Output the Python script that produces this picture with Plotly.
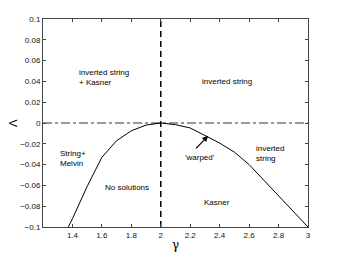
import plotly.graph_objects as go

gamma = [1.372, 1.4, 1.5, 1.6, 1.7, 1.8, 1.9, 2.0, 2.1, 2.2, 2.3, 2.4, 2.5, 2.6, 2.7, 2.8, 2.9, 3.0]
lam = [-0.1, -0.092, -0.061, -0.033, -0.017, -0.0075, -0.002, 0.0, -0.0016, -0.0048, -0.012, -0.0193,
       -0.028, -0.040, -0.055, -0.070, -0.085, -0.1]

xticks = [1.4, 1.6, 1.8, 2, 2.2, 2.4, 2.6, 2.8, 3]
xticklabels = ["1.4", "1.6", "1.8", "2", "2.2", "2.4", "2.6", "2.8", "3"]
yticks = [0.1, 0.08, 0.06, 0.04, 0.02, 0, -0.02, -0.04, -0.06, -0.08, -0.1]
yticklabels = ["0.1", "0.08", "0.06", "0.04", "0.02", "0", "\u22120.02", "\u22120.04", "\u22120.06", "\u22120.08", "\u22120.1"]

labels = [
    ("inverted string<br>+ Kasner", 1.43, 0.044),
    ("inverted string", 2.265, 0.040),
    ("String+<br>Melvin", 1.305, -0.034),
    ("No solutions", 1.61, -0.0616),
    ("Kasner", 2.28, -0.076),
    ("inverted<br>string", 2.632, -0.029),
    ("'warped'", 2.152, -0.0335),
]

FONT = "Liberation Sans, Arial, sans-serif"

fig = go.Figure()
fig.add_trace(go.Scatter(x=gamma, y=lam, mode="lines",
                         line=dict(color="black", width=1), showlegend=False))
fig.add_trace(go.Scatter(x=[1.2, 3.0], y=[0, 0], mode="lines",
                         line=dict(color="black", width=0.8, dash="dashdot"), showlegend=False))
fig.add_trace(go.Scatter(x=[2, 2], y=[-0.1, 0.1], mode="lines",
                         line=dict(color="black", width=1.5, dash="6px,4px"), showlegend=False))

for txt, x, y in labels:
    fig.add_annotation(x=x, y=y, text=txt, showarrow=False, xanchor="left", align="left",
                       font=dict(size=8, color="black", family=FONT))

fig.add_annotation(x=2.322, y=-0.0122, ax=2.23, ay=-0.0258, xref="x", yref="y", axref="x", ayref="y",
                   text="", showarrow=True, arrowhead=2, arrowsize=1, arrowwidth=1.2, arrowcolor="black")

# axis titles placed in window pixel positions, converted to paper coords
# plot area in window pixels: x 43..308, y 19..227
pw, ph = 308 - 43, 227 - 19
def px2paper(px, py):
    return (px - 43) / pw, (227 - py) / ph

lx, ly = px2paper(13, 123)
fig.add_annotation(x=lx, y=ly, xref="paper", yref="paper", text="\u039b", showarrow=False,
                   xanchor="center", yanchor="middle",
                   textangle=-90, font=dict(size=11, family="DejaVu Sans", color="black"))
gx, gy = px2paper(175, 245)
fig.add_annotation(x=gx, y=gy, xref="paper", yref="paper", text="\u03b3", showarrow=False,
                   xanchor="center", yanchor="middle",
                   font=dict(size=12, family="DejaVu Serif", color="black"))

fig.update_xaxes(range=[1.2, 3.0], tickvals=xticks, ticktext=xticklabels, ticks="inside", ticklen=3,
                 mirror="ticks", showline=True, linecolor="#444", linewidth=1, showgrid=False, zeroline=False,
                 automargin=False, tickfont=dict(size=8, color="#111", family=FONT))
fig.update_yaxes(range=[-0.1, 0.1], tickvals=yticks, ticktext=yticklabels, ticks="inside", ticklen=3,
                 mirror="ticks", showline=True, linecolor="#444", linewidth=1, showgrid=False, zeroline=False,
                 automargin=False, tickfont=dict(size=8, color="#111", family=FONT))
# page body has an 8px default margin, so the figure is drawn 8px in from the window corner
fig.update_layout(width=332, height=247, margin=dict(l=35, r=32, t=11, b=28),
                  plot_bgcolor="white", paper_bgcolor="white", showlegend=False)
fig.write_html("out.html")
